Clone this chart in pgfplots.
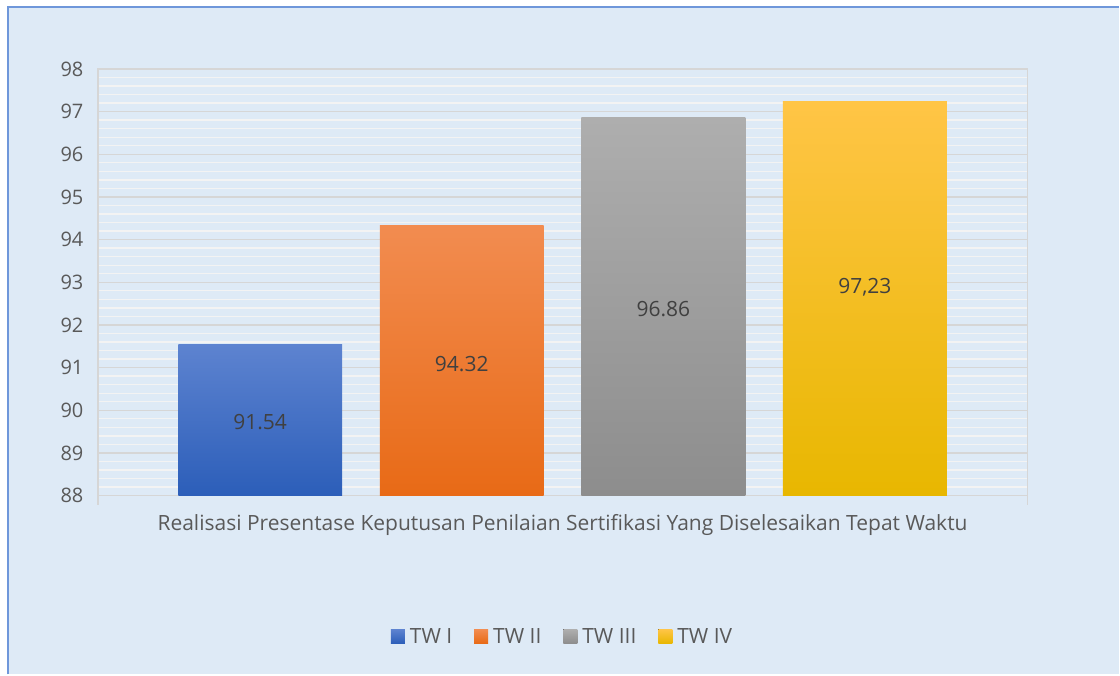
\documentclass[border=0pt]{standalone}
\usepackage{pgfplots}
\pgfplotsset{compat=1.18}
\usepackage{fontspec}
\setmainfont{Open Sans}
\definecolor{bg}{HTML}{DEEAF6}
\definecolor{frameblue}{HTML}{6F97DA}
\definecolor{majgrid}{HTML}{D6D6D6}
\definecolor{mingrid}{HTML}{F3F3F3}
\definecolor{txt}{HTML}{595959}
\definecolor{lbl}{HTML}{404040}
\definecolor{b1t}{HTML}{5D83D0}\definecolor{b1b}{HTML}{2C5EB9}
\definecolor{o1t}{HTML}{F28C50}\definecolor{o1b}{HTML}{E86A16}
\definecolor{g1t}{HTML}{AEAEAE}\definecolor{g1b}{HTML}{8D8D8D}
\definecolor{y1t}{HTML}{FFC546}\definecolor{y1b}{HTML}{E8B700}
\begin{document}
\begin{tikzpicture}[x=1pt,y=1pt]
\fill[white] (0,0) rectangle (1120,675);
\fill[bg] (7,0) rectangle (1120,669);
\draw[frameblue,line width=1.8pt] (7.9,0) -- (7.9,668.1) -- (1120,668.1);
\begin{axis}[
  at={(98pt,179pt)}, anchor=south west,
  width=930pt, height=427pt, scale only axis,
  ymin=88, ymax=98, ytick={88,89,...,98},
  xmin=-2.305, xmax=2.305,
  minor y tick num=4,
  ymajorgrids, yminorgrids,
  major grid style={majgrid, line width=1.3pt},
  minor grid style={mingrid, line width=1.3pt},
  axis line style={majgrid, line width=1.3pt},
  tick style={draw=none},
  xtick pos=bottom,
  xtick={0},
  xticklabels={Realisasi Presentase Keputusan Penilaian Sertifikasi Yang Diselesaikan Tepat Waktu},
  extra x ticks={-2.305,2.305}, extra x tick labels={},
  extra x tick style={tick style={draw=majgrid, line width=1.3pt}, major tick length=9pt, tick align=outside, xmajorgrids=false, xtick pos=bottom},
  ticklabel style={font=\fontsize{20}{22}\selectfont, text=txt},
  xticklabel style={yshift=-11pt, font=\fontsize{21}{23}\selectfont},
  yticklabel style={xshift=-11pt},
  /pgf/number format/assume math mode=true,
  ybar, bar width=0.813, bar shift=0pt,
  legend columns=4,
  legend style={at={(0.5,-0.33)}, anchor=center, draw=none, fill=none,
    font=\fontsize{21}{23}\selectfont, text=txt,
    /tikz/every even column/.append style={column sep=20pt}},
  legend image code/.code={\fill[#1] (0pt,-7pt) rectangle (14pt,7pt);},
]
\addplot[draw=none, top color=b1t, bottom color=b1b] coordinates {(-1.5,91.54)};
\addplot[draw=none, top color=o1t, bottom color=o1b] coordinates {(-0.5,94.32)};
\addplot[draw=none, top color=g1t, bottom color=g1b] coordinates {(0.5,96.86)};
\addplot[draw=none, top color=y1t, bottom color=y1b] coordinates {(1.5,97.23)};
\legend{\hspace{3pt}TW I, \hspace{3pt}TW II, \hspace{3pt}TW III, \hspace{3pt}TW IV}
\addplot[only marks, mark=none, forget plot,
  point meta=explicit symbolic,
  nodes near coords, nodes near coords align={center},
  every node near coord/.append style={font=\fontsize{21}{23}\selectfont, text=lbl, anchor=center}]
  coordinates {(-1.5,89.73) [91.54] (-0.5,91.09) [94.32] (0.5,92.38) [96.86] (1.5,92.89) [{97,23}]};
\end{axis}
\end{tikzpicture}
\end{document}
